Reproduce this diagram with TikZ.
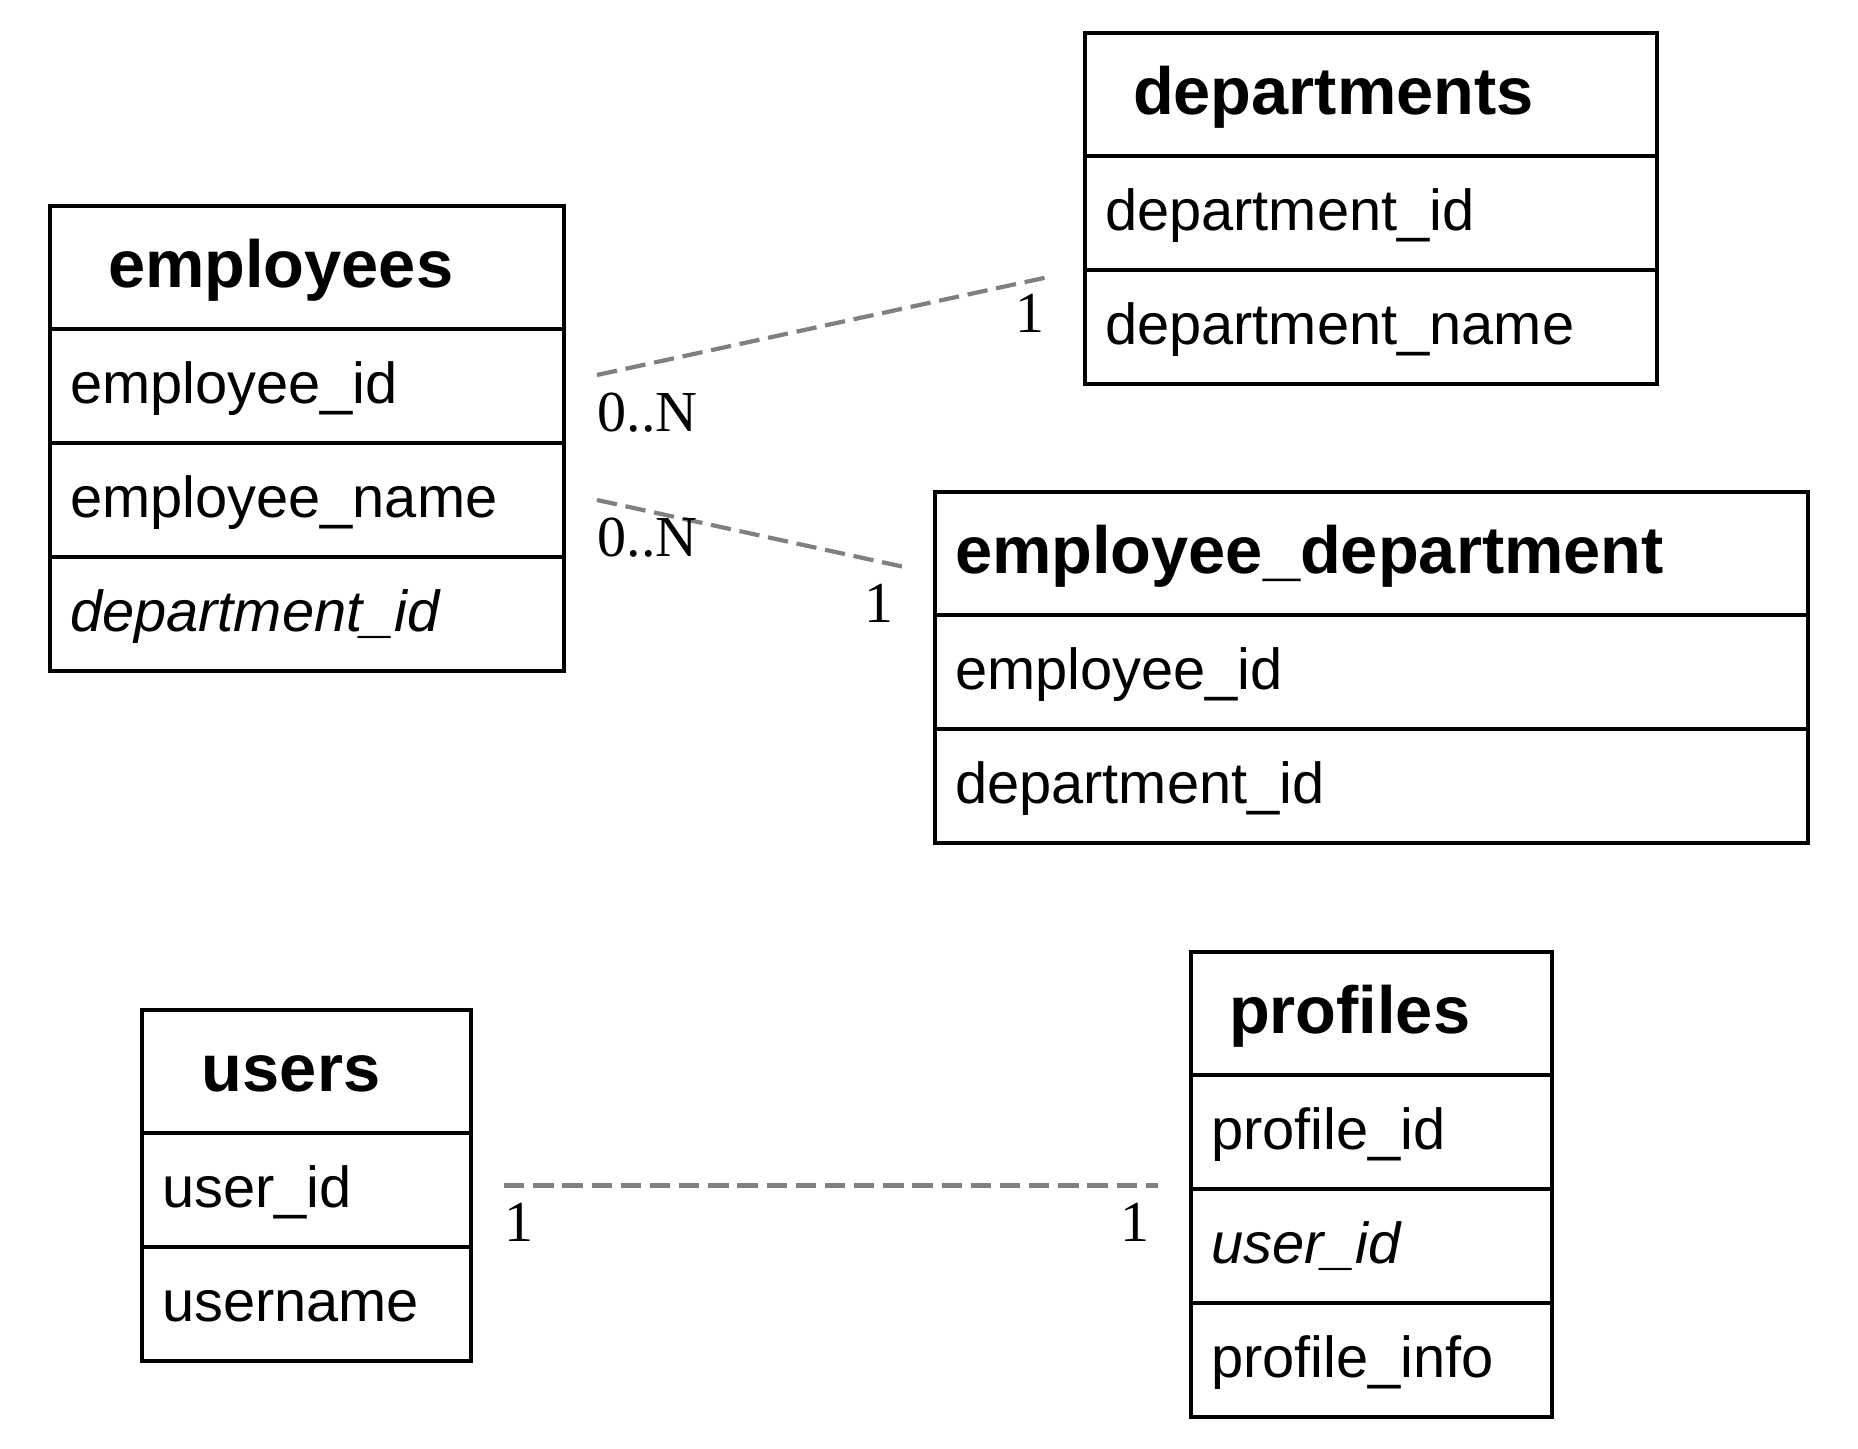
\documentclass[tikz,border=0pt]{standalone}
\usepackage{fontspec}
\setmainfont{Liberation Sans}
\newfontfamily\cardfont{Liberation Serif}
\usetikzlibrary{positioning}

\begin{document}
\begin{tikzpicture}[
  head/.style={draw, line width=1.2pt, outer sep=0pt, inner xsep=0.2cm, inner ysep=0pt,
    minimum height=1.23cm, text height=16.1pt, text depth=4.9pt, align=left,
    font=\fontsize{19}{22}\selectfont\bfseries},
  field/.style={draw, line width=1.2pt, outer sep=0pt, inner xsep=0.2cm, inner ysep=0pt,
    minimum height=1.14cm, text height=14.5pt, text depth=4.3pt, align=left,
    font=\fontsize{16.45}{19}\selectfont},
  rel/.style={draw=relgray, line width=1.2pt, dash pattern=on 5.8pt off 2.5pt},
  card/.style={inner sep=0pt, font=\cardfont\fontsize{16.5}{19}\selectfont}
]

% Colors and page frame
\definecolor{relgray}{RGB}{128,128,128}
\useasboundingbox (0,0) rectangle (18.58,-14.49);

% employees table
\node[head, text width=4.74cm, anchor=north west] (emp) at (0.50,-2.06) {\hspace*{0.38cm}employees};
\node[field, text width=4.74cm, below=0pt of emp] (empid) {employee\_id};
\node[field, text width=4.74cm, below=0pt of empid] (empname) {employee\_name};
\node[field, text width=4.74cm, below=0pt of empname] (empdeptid) {\textit{department\_id}};

% departments table
\node[head, text width=5.32cm, anchor=north west] (dept) at (10.85,-0.33) {\hspace*{0.28cm}departments};
\node[field, text width=5.32cm, below=0pt of dept] (deptid) {department\_id};
\node[field, text width=5.32cm, below=0pt of deptid] (deptname) {department\_name};

% employee_department table
\node[head, text width=8.33cm, anchor=north west] (empdept) at (9.35,-4.92) {employee\_department};
\node[field, text width=8.33cm, below=0pt of empdept] (edempid) {employee\_id};
\node[field, text width=8.33cm, below=0pt of edempid] (eddeptid) {department\_id};

% users table
\node[head, text width=2.89cm, anchor=north west] (users) at (1.42,-10.10) {\hspace*{0.40cm}users};
\node[field, text width=2.89cm, below=0pt of users] (userid) {user\_id};
\node[field, text width=2.89cm, below=0pt of userid] (username) {username};

% profiles table
\node[head, text width=3.21cm, anchor=north west] (prof) at (11.91,-9.52) {\hspace*{0.18cm}profiles};
\node[field, text width=3.21cm, below=0pt of prof] (profid) {profile\_id};
\node[field, text width=3.21cm, below=0pt of profid] (profuser) {\textit{user\_id}};
\node[field, text width=3.21cm, below=0pt of profuser] (profinfo) {profile\_info};

% Relationship end points
\coordinate (r1a) at ([shift={(0.33,0.11)}]empid.east);
\coordinate (r1b) at ([shift={(-0.32,-0.06)}]deptid.south west);
\coordinate (r2a) at ([xshift=0.33cm]empname.east);
\coordinate (r2b) at ([shift={(-0.33,-0.13)}]empdept.west);
\coordinate (r3a) at ([shift={(0.33,0.045)}]userid.east);
\coordinate (r3b) at ([xshift=-0.33cm]r3a -| prof.west);

% Relationships
\draw[rel] (r1a) -- (r1b);
\draw[rel] (r2a) -- (r2b);
\draw[rel] (r3a) -- (r3b);

% Cardinalities
\node[card, anchor=base west] (m1a) at ([yshift=-0.56cm]r1a) {0..N};
\node[card, anchor=base east] (m1b) at ([shift={(-0.08,-0.56)}]r1b) {1};
\node[card, anchor=base west] (m2a) at ([yshift=-0.56cm]r2a) {0..N};
\node[card, anchor=base east] (m2b) at ([shift={(-0.08,-0.56)}]r2b) {1};
\node[card, anchor=base west] (m3a) at ([yshift=-0.56cm]r3a) {1};
\node[card, anchor=base east] (m3b) at ([shift={(-0.08,-0.56)}]r3b) {1};

\end{tikzpicture}
\end{document}
